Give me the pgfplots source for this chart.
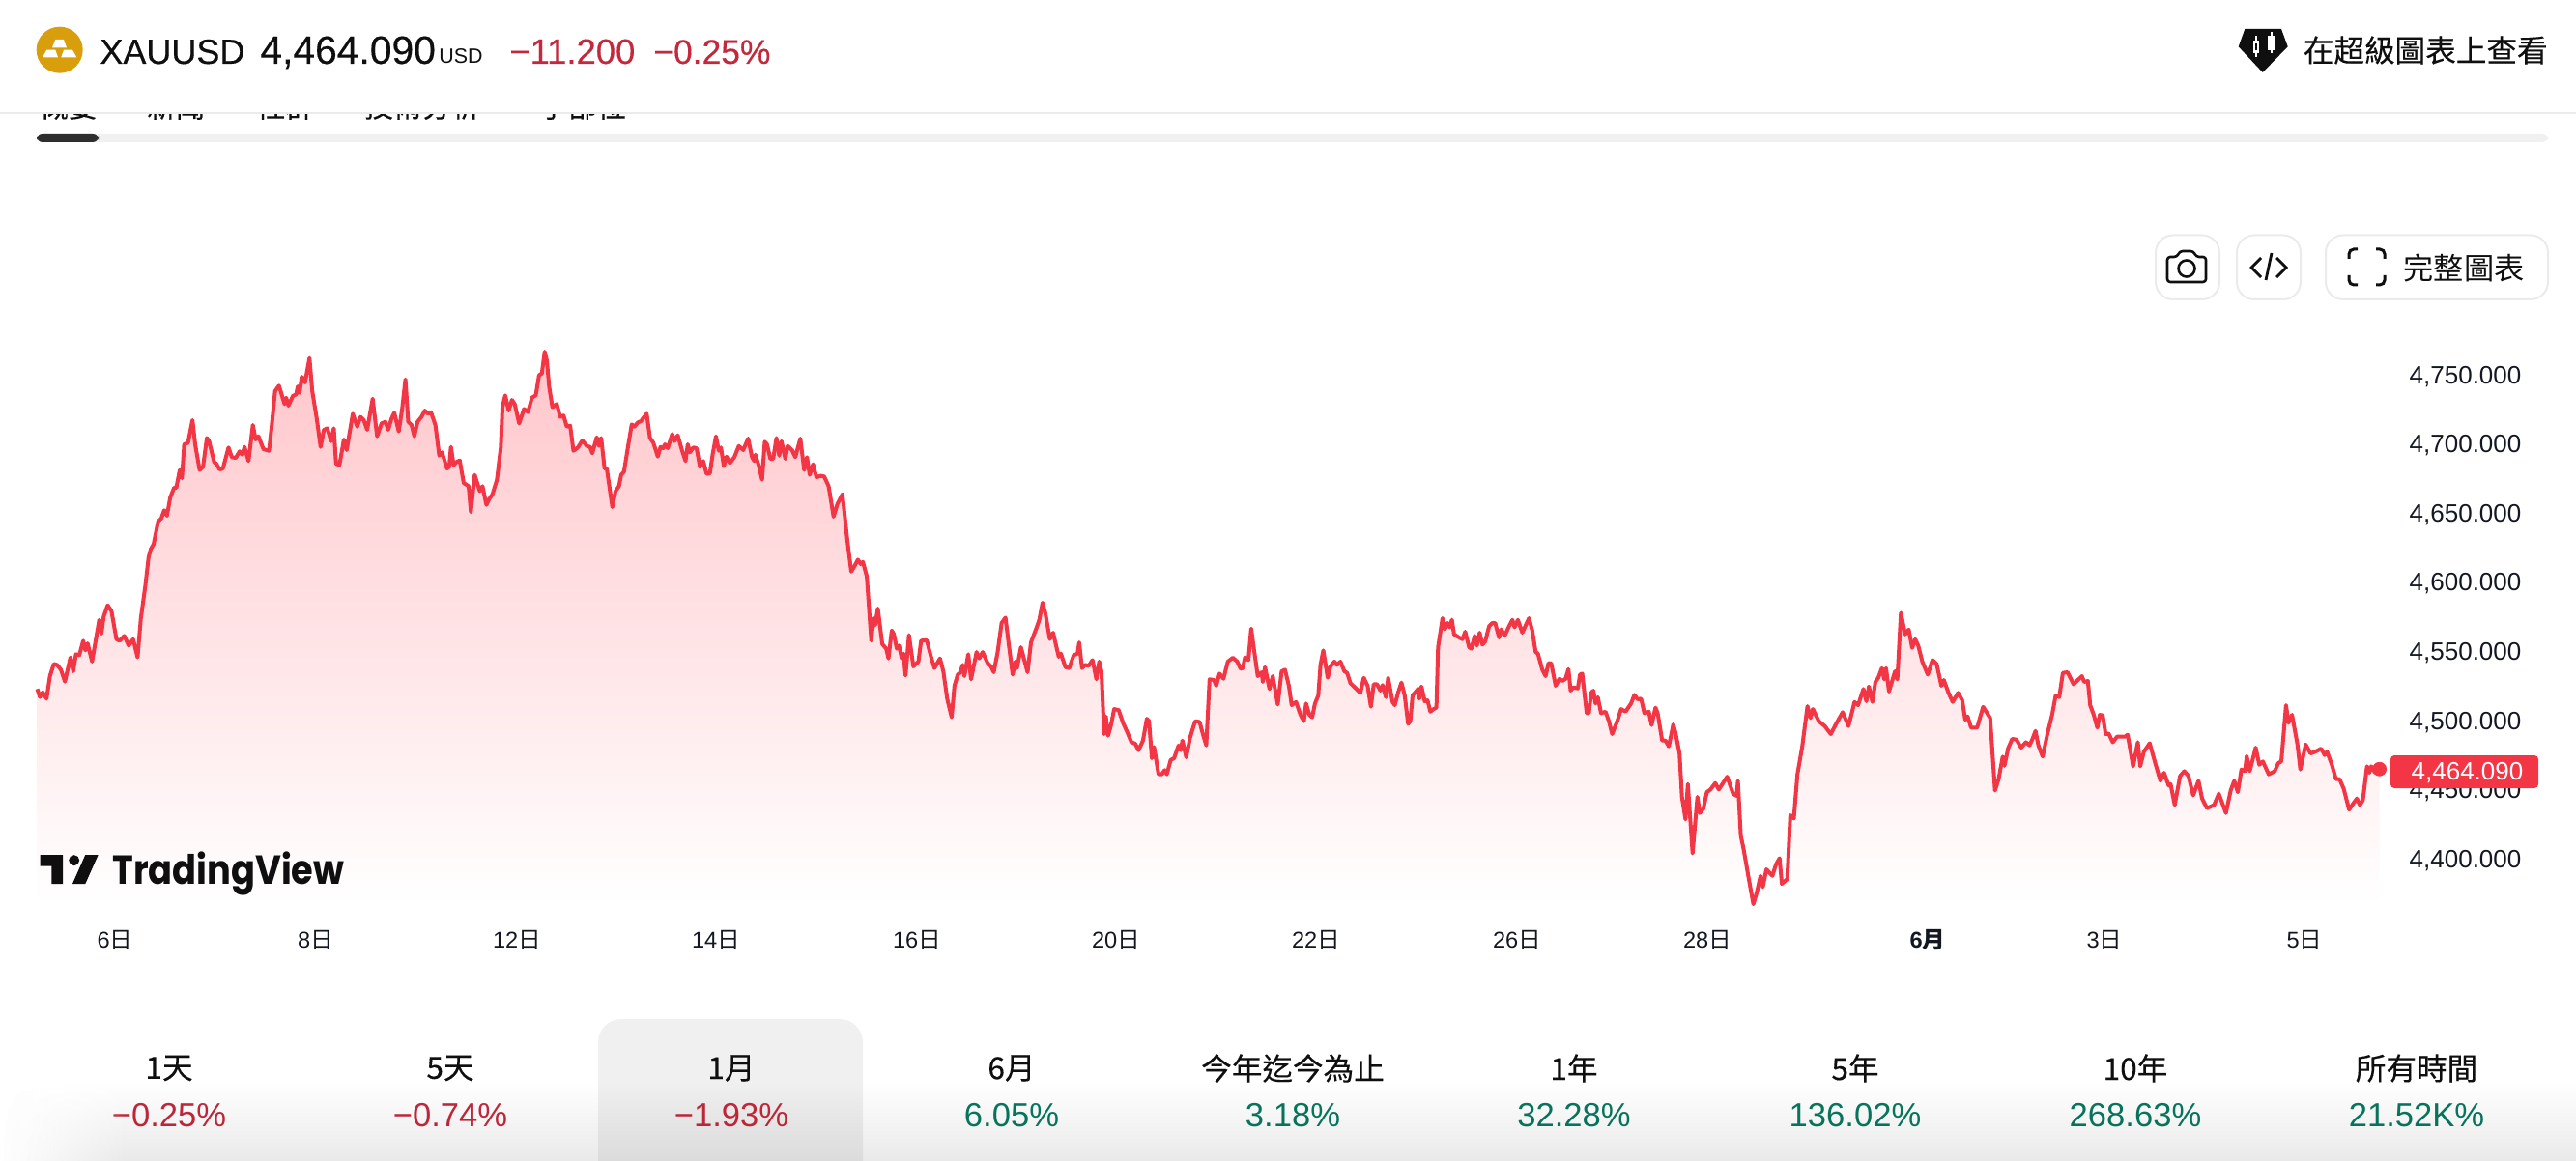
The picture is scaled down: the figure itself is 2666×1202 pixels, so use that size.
\documentclass[border=0pt]{standalone}
\usepackage{fontspec}
\usepackage{pgfplots}
\usepackage{pgfplotstable}
\pgfplotsset{compat=1.18}
\usetikzlibrary{fadings}
\setmainfont{Liberation Sans}
\newfontfamily\cjk{Noto Sans CJK TC}
\newfontfamily\cjkm[FakeBold=0.25]{Noto Sans CJK TC}
\newfontfamily\med[FakeBold=0.3]{Liberation Sans}
\newfontfamily\tvf{Poppins}
\newcommand\fs[1]{\fontsize{#1}{#1}\selectfont}
\newcommand\ri{{\cjk 日}}
\definecolor{lred}{RGB}{242,54,69}
\definecolor{gtop}{RGB}{255,198,203}
\definecolor{txt}{RGB}{15,15,15}
\definecolor{tickc}{RGB}{19,23,34}
\definecolor{dred}{RGB}{196,40,60}
\definecolor{dgreen}{RGB}{8,120,95}
\definecolor{gold}{RGB}{217,158,11}
\definecolor{bord}{RGB}{235,235,235}
\definecolor{bar}{RGB}{240,240,240}
\pgfplotstableread{
px price
38.5 4522.0
41.3 4516.2
44.2 4519.6
48.2 4515.0
51.7 4531.3
55.7 4540.1
59.1 4539.4
63.1 4535.9
67.2 4527.3
72.9 4544.8
75.8 4534.8
78.6 4547.1
82.1 4546.4
86.1 4556.9
88.4 4549.9
90.7 4555.0
95.3 4541.8
98.7 4555.7
102.7 4572.0
105.0 4562.0
107.3 4574.3
111.4 4582.5
115.4 4578.3
120.5 4558.0
124.0 4556.9
128.6 4560.4
133.2 4553.4
137.8 4558.0
142.4 4544.8
145.8 4573.2
150.4 4596.5
153.8 4617.4
156.1 4623.2
159.0 4626.7
163.6 4643.0
167.0 4645.4
169.9 4651.2
172.8 4647.2
176.2 4660.5
180.2 4667.5
182.5 4667.5
186.0 4680.3
188.3 4674.4
190.6 4698.9
194.6 4700.0
199.2 4716.4
202.0 4698.9
206.6 4680.3
210.1 4682.6
214.1 4703.5
216.4 4701.2
221.6 4686.1
223.9 4684.9
227.3 4680.7
230.7 4681.4
236.5 4696.6
239.9 4689.6
244.0 4689.1
248.0 4693.8
250.8 4691.4
253.1 4697.0
257.2 4686.8
261.7 4712.9
264.6 4702.4
267.5 4704.7
272.7 4695.4
278.4 4694.2
281.3 4712.9
284.7 4737.3
288.7 4741.3
294.5 4728.0
296.2 4732.6
298.5 4726.8
303.1 4733.8
306.5 4735.0
308.2 4740.8
310.0 4736.1
312.3 4747.8
315.7 4743.6
320.3 4761.3
323.2 4737.3
327.8 4717.5
331.8 4697.0
335.2 4709.4
338.7 4710.5
342.7 4701.2
345.5 4710.5
347.8 4684.9
351.3 4683.8
355.9 4702.4
358.8 4694.7
365.1 4721.0
369.7 4711.7
373.1 4718.7
376.5 4716.4
380.0 4709.4
385.7 4731.9
390.3 4704.7
394.9 4714.0
398.9 4715.2
401.8 4709.4
405.2 4717.5
408.1 4721.7
412.7 4708.2
416.2 4724.5
419.6 4745.9
422.5 4715.2
425.9 4712.9
428.8 4704.7
432.2 4715.2
436.2 4718.7
439.7 4723.3
443.1 4721.0
446.0 4722.2
450.6 4712.9
454.6 4690.7
457.5 4693.1
462.6 4681.4
464.9 4682.6
466.7 4697.0
469.5 4683.8
472.4 4686.1
475.8 4687.3
479.9 4671.0
485.0 4668.6
487.3 4650.0
491.3 4676.8
496.5 4665.1
499.4 4668.6
503.4 4655.1
506.3 4659.3
509.7 4662.8
514.3 4673.3
518.3 4696.6
520.0 4725.7
522.9 4734.3
526.4 4723.3
529.8 4731.0
532.7 4728.0
537.3 4714.0
542.4 4724.5
546.4 4722.2
550.5 4732.6
554.5 4734.3
557.9 4748.9
560.8 4750.1
563.7 4765.9
566.0 4759.4
568.3 4740.8
571.7 4725.7
576.3 4728.0
579.7 4718.7
583.2 4719.8
586.6 4711.7
590.1 4712.4
593.5 4694.2
598.1 4696.6
602.7 4701.7
607.3 4697.7
610.7 4697.0
613.0 4692.4
617.6 4704.0
619.9 4697.7
622.2 4703.5
625.7 4681.4
628.0 4681.4
633.7 4653.5
637.1 4665.1
640.6 4668.6
642.9 4676.8
645.8 4679.1
649.8 4696.6
653.8 4713.3
656.7 4711.7
660.1 4714.7
663.5 4715.7
665.8 4718.0
669.3 4721.0
672.7 4703.5
676.2 4700.0
680.8 4690.0
683.6 4697.0
686.5 4696.1
688.2 4698.9
691.1 4696.1
695.7 4706.3
698.0 4701.2
701.4 4705.4
706.0 4694.2
709.5 4686.8
711.8 4698.9
714.1 4693.1
717.5 4696.6
720.9 4696.1
724.4 4682.6
727.8 4686.8
731.3 4677.5
734.7 4677.9
737.6 4691.9
741.0 4704.7
743.9 4694.2
746.2 4696.6
749.1 4683.1
751.9 4690.0
755.4 4685.4
760.0 4689.6
764.6 4697.7
769.2 4694.7
774.3 4703.1
778.3 4689.6
780.6 4686.8
781.8 4691.4
785.2 4683.8
788.7 4673.3
791.5 4700.8
793.8 4698.9
797.3 4688.4
800.2 4688.4
803.6 4703.5
806.5 4690.7
808.8 4701.2
812.8 4688.4
815.1 4697.7
819.7 4694.7
823.1 4689.6
828.3 4703.1
832.3 4680.3
835.2 4689.6
838.0 4676.8
841.5 4684.5
844.9 4675.1
849.5 4676.1
853.0 4675.6
857.6 4668.6
862.7 4646.5
866.7 4655.8
871.9 4662.8
877.0 4629.1
881.0 4606.9
884.4 4610.9
887.9 4615.5
890.8 4612.3
893.1 4613.9
897.1 4603.4
901.7 4556.9
904.0 4573.2
905.7 4568.1
908.5 4580.2
913.1 4554.5
917.2 4551.1
919.5 4544.1
922.9 4564.3
925.2 4561.5
928.1 4551.1
930.4 4553.4
933.2 4544.1
935.0 4547.6
937.2 4531.7
940.7 4561.0
945.3 4538.3
950.5 4541.8
953.3 4556.9
959.1 4557.3
963.1 4546.4
967.1 4537.1
972.8 4544.1
976.3 4534.8
980.3 4515.0
984.9 4501.5
987.8 4524.3
991.2 4532.4
993.5 4533.6
996.4 4539.4
998.1 4531.3
1002.1 4547.1
1005.0 4529.0
1010.7 4548.7
1013.6 4544.1
1017.0 4548.7
1022.2 4540.6
1025.6 4538.3
1028.5 4534.1
1032.5 4548.7
1036.6 4569.7
1040.6 4573.6
1044.0 4554.5
1048.0 4532.4
1050.9 4541.8
1052.6 4537.1
1056.6 4552.2
1060.1 4542.9
1063.5 4534.1
1067.0 4555.7
1072.7 4566.2
1075.6 4572.0
1079.0 4584.4
1081.9 4576.7
1086.5 4558.1
1089.9 4562.7
1095.7 4545.3
1098.0 4547.6
1102.6 4537.8
1106.6 4537.1
1111.2 4546.4
1115.2 4547.6
1116.9 4555.7
1119.8 4537.1
1123.2 4539.4
1126.7 4538.7
1130.7 4542.9
1134.7 4529.0
1137.6 4541.8
1139.9 4534.8
1142.7 4489.4
1144.5 4502.2
1146.8 4488.2
1149.6 4495.2
1153.1 4507.5
1157.7 4506.8
1162.3 4497.5
1166.8 4490.5
1170.9 4483.6
1174.9 4482.4
1178.3 4477.7
1182.9 4484.7
1186.9 4500.5
1189.2 4498.7
1192.1 4471.9
1194.4 4480.0
1199.0 4460.3
1202.4 4460.3
1205.3 4463.3
1207.6 4460.3
1211.6 4470.7
1215.1 4471.9
1219.7 4481.2
1222.0 4477.7
1223.7 4484.7
1227.7 4472.6
1231.7 4487.0
1236.9 4498.7
1241.5 4498.2
1244.9 4489.4
1248.4 4481.2
1251.8 4529.0
1256.4 4528.5
1258.7 4524.3
1262.1 4533.1
1266.2 4529.4
1270.7 4541.8
1275.9 4544.6
1280.5 4541.8
1283.9 4536.6
1286.2 4537.1
1288.5 4544.8
1292.0 4542.9
1294.9 4565.7
1297.7 4551.1
1301.7 4531.3
1305.8 4534.1
1306.9 4527.1
1309.2 4537.8
1313.8 4522.0
1317.2 4531.3
1322.4 4510.8
1326.4 4534.8
1329.9 4535.9
1333.9 4524.3
1336.8 4510.3
1341.3 4512.6
1345.9 4503.3
1349.4 4498.7
1351.7 4511.5
1355.1 4503.3
1358.0 4501.5
1360.9 4511.5
1364.3 4517.3
1366.6 4539.4
1369.5 4549.9
1374.1 4530.1
1376.9 4538.3
1381.0 4541.8
1383.8 4539.4
1387.3 4541.8
1391.3 4534.8
1394.2 4533.6
1397.6 4526.2
1402.2 4523.1
1407.9 4519.2
1411.4 4530.1
1415.4 4524.3
1418.8 4509.2
1421.7 4525.4
1425.1 4525.4
1428.6 4520.8
1430.9 4524.8
1434.3 4516.1
1436.6 4530.1
1441.2 4512.6
1443.5 4510.3
1447.0 4519.6
1450.4 4526.6
1453.8 4517.3
1457.3 4496.8
1459.6 4498.7
1461.9 4517.3
1467.6 4522.0
1468.8 4515.0
1471.1 4523.8
1474.5 4513.1
1477.4 4513.8
1480.3 4505.6
1483.7 4507.5
1486.6 4508.5
1488.3 4552.2
1492.9 4573.2
1495.2 4565.1
1498.0 4569.7
1500.3 4566.6
1502.6 4572.0
1504.9 4561.5
1510.1 4559.2
1513.5 4558.0
1516.4 4563.4
1520.4 4552.2
1522.7 4551.1
1526.2 4560.4
1528.5 4553.4
1531.3 4562.7
1534.2 4554.1
1537.1 4556.4
1541.1 4567.4
1544.5 4569.7
1547.4 4569.7
1551.4 4559.2
1553.7 4565.1
1557.2 4560.4
1561.8 4567.4
1565.2 4572.0
1567.5 4566.6
1570.9 4572.0
1575.5 4562.7
1582.4 4573.2
1585.9 4563.9
1589.3 4548.7
1591.6 4547.6
1596.2 4535.9
1599.6 4531.3
1602.5 4540.6
1605.4 4540.6
1610.0 4524.3
1614.0 4529.4
1616.9 4527.8
1620.3 4529.4
1623.2 4536.4
1625.5 4520.8
1628.3 4523.1
1632.9 4522.4
1635.2 4532.4
1637.5 4533.1
1642.1 4504.5
1644.4 4504.5
1646.7 4519.2
1649.0 4520.8
1651.3 4511.5
1653.6 4516.1
1657.0 4504.5
1661.6 4505.6
1665.1 4498.7
1668.5 4489.4
1674.3 4499.8
1677.7 4507.5
1682.3 4505.6
1688.0 4511.5
1691.5 4517.8
1694.9 4514.5
1698.4 4515.0
1701.8 4504.5
1706.4 4505.6
1709.3 4495.9
1713.3 4508.5
1715.6 4504.5
1720.2 4484.7
1723.6 4484.7
1727.1 4480.5
1731.7 4496.4
1734.0 4490.5
1738.2 4475.4
1740.7 4444.0
1744.4 4427.7
1746.8 4453.3
1751.7 4403.2
1756.7 4444.0
1759.1 4432.3
1762.8 4435.3
1766.5 4447.4
1770.2 4449.3
1775.2 4454.0
1778.8 4449.3
1787.5 4458.6
1793.6 4446.3
1797.3 4444.7
1798.6 4455.6
1801.6 4416.0
1804.7 4405.5
1809.6 4385.8
1814.6 4366.4
1818.3 4375.3
1822.0 4386.9
1824.4 4378.8
1828.1 4391.6
1834.3 4386.9
1838.0 4395.1
1841.7 4399.7
1844.1 4381.1
1849.7 4384.6
1852.8 4430.7
1856.5 4428.4
1860.2 4460.3
1865.1 4480.0
1870.6 4509.6
1873.7 4501.0
1876.2 4507.5
1882.3 4498.7
1888.5 4495.2
1894.7 4489.4
1900.8 4497.5
1907.0 4505.2
1913.1 4495.2
1919.3 4512.6
1923.0 4510.3
1928.5 4522.0
1931.6 4513.1
1934.1 4523.8
1937.8 4512.6
1940.9 4527.1
1943.9 4530.1
1947.6 4537.1
1950.1 4528.9
1951.9 4537.1
1955.0 4520.1
1961.2 4534.8
1963.6 4528.9
1967.3 4577.1
1971.7 4561.5
1975.4 4565.0
1979.0 4551.7
1982.1 4558.0
1985.2 4553.4
1989.5 4541.7
1995.1 4532.4
2000.0 4542.9
2004.3 4540.1
2009.2 4524.3
2011.7 4528.5
2016.6 4519.2
2020.9 4512.6
2026.5 4519.2
2030.8 4513.8
2033.9 4499.8
2036.3 4502.2
2040.0 4494.0
2046.2 4494.0
2052.4 4509.1
2059.7 4501.0
2064.7 4448.6
2068.4 4456.8
2072.7 4473.1
2074.5 4466.5
2078.2 4478.9
2082.5 4485.9
2086.8 4485.4
2091.8 4479.6
2096.7 4483.5
2100.4 4481.2
2103.5 4485.9
2106.6 4491.7
2109.6 4481.2
2114.0 4473.1
2118.9 4489.4
2123.8 4503.3
2127.5 4517.3
2131.2 4516.1
2134.9 4533.6
2139.8 4534.1
2146.0 4525.4
2154.6 4531.3
2157.1 4527.1
2160.8 4527.8
2163.2 4510.3
2166.9 4503.3
2170.6 4494.0
2173.1 4503.3
2176.2 4502.9
2179.2 4489.4
2182.3 4489.8
2186.6 4483.5
2191.0 4487.5
2199.0 4487.5
2202.0 4488.9
2207.6 4466.1
2212.5 4483.5
2215.0 4466.1
2218.7 4476.6
2224.8 4482.8
2231.0 4467.2
2235.9 4455.6
2239.6 4461.4
2244.5 4452.1
2246.4 4453.3
2250.7 4438.1
2256.2 4459.1
2260.6 4462.6
2264.9 4459.1
2269.8 4445.1
2275.3 4455.6
2279.0 4442.8
2284.0 4435.8
2291.4 4438.1
2296.3 4446.3
2303.7 4432.3
2308.6 4448.6
2312.3 4455.6
2316.0 4447.4
2319.7 4463.8
2323.4 4462.6
2325.2 4473.5
2328.3 4462.6
2334.5 4479.6
2338.2 4467.2
2341.9 4469.6
2348.0 4460.3
2354.2 4462.6
2357.9 4468.4
2361.0 4469.6
2365.9 4510.3
2368.4 4497.5
2372.1 4503.3
2377.6 4482.4
2380.7 4463.8
2386.2 4481.9
2391.2 4475.4
2396.1 4476.6
2402.2 4478.9
2405.9 4474.2
2408.4 4476.6
2413.3 4467.2
2417.6 4456.8
2421.3 4456.8
2425.6 4449.8
2431.2 4434.7
2435.5 4439.3
2439.2 4442.8
2442.3 4438.1
2445.4 4441.6
2449.7 4466.1
2452.1 4461.4
2454.0 4466.1
2457.7 4461.9
2462.6 4464.09
}\goldtable
\begin{document}
\begin{tikzpicture}
\begin{axis}[
  at={(19.25pt,-468.35pt)},anchor=south west,
  scale only axis,width=1212.05pt,height=289.25pt,
  xmin=38.5,xmax=2462.6,ymin=4366,ymax=4770,
  clip=false,
  axis line style={draw=none},
  tick style={draw=none},
  xtick={119,326.4,535,741,949,1155,1362,1570,1767,1995,2178,2385},
  xticklabels={6\ri,8\ri,12\ri,14\ri,16\ri,20\ri,22\ri,26\ri,28\ri,{\textbf{6{\cjk 月}}},3\ri,5\ri},
  xticklabel style={font=\fs{11.8}\color{tickc},text height=9pt,text depth=2pt,yshift=-10pt},
  ytick={4400,4450,4500,4550,4600,4650,4700,4750},
  yticklabel pos=right,
  yticklabel style={font=\fs{13}\color{tickc},anchor=west,xshift=12pt,yshift=-1.4pt,
    /pgf/number format/.cd,fixed,fixed zerofill,precision=3,1000 sep={,},assume math mode=true},
]
\addplot[draw=none,top color=gtop,bottom color=white] table[x=px,y=price]{\goldtable} \closedcycle;
\addplot[lred,line width=2pt,line join=round] table[x=px,y=price]{\goldtable};
\addplot[lred,only marks,mark=*,mark size=3.5pt,mark options={fill=lred,draw=lred}] coordinates {(2462.6,4464.09)};
\end{axis}
\begin{scope}[x=0.5pt,y=-0.5pt]
% tabs clipped under the header
\tikzset{tab/.style={anchor=center,inner sep=0,text=txt,font=\fs{15}\cjkm}}
\node[tab] at (71,110) {概要};
\node[tab] at (182,110) {新聞};
\node[tab] at (295,110) {社群};
\node[tab] at (437,110) {技術分析};
\node[tab] at (603,110) {子部位};
\fill[white] (0,0) rectangle (2666,116);
\fill[white] (0,127) rectangle (2666,135);
\fill[bord] (0,116) rectangle (2666,118.5);
% scroll bar
\fill[bar,rounded corners=3pt] (38,139) rectangle (2637,147);
\fill[black!82,rounded corners=3pt] (38,139) rectangle (102,147);
% logo
\fill[gold] (61.7,51.7) circle [radius=24];
\fill[white] (57.3,41)--(66,41)--(69,49.3)--(54,49.3)--cycle;
\fill[white] (48.3,51.7)--(57.3,51.7)--(60,59.3)--(44,59.3)--cycle;
\fill[white] (66,51.7)--(75,51.7)--(79.3,59.3)--(63.3,59.3)--cycle;
% header
\tikzset{hd/.style={anchor=base west,inner sep=0}}
\node[hd,text=txt,font=\fs{18}\med] at (103,66) {XAUUSD};
\node[hd,text=txt,font=\fs{20.4}\med] at (269,66) {4,464.090};
\node[hd,text=txt,font=\fs{10.7}] at (454,66) {USD};
\node[hd,text=dred,font=\fs{18.2}\med] at (527,66) {−11.200};
\node[hd,text=dred,font=\fs{17.7}\med] at (676,66) {−0.25\%};
% supercharts icon
\fill[txt] (2323.3,30)--(2361,30)--(2367.7,48.3)--(2341.7,75)--(2316.7,48.3)--cycle;
\fill[white] (2332,41.7) rectangle (2338,55);
\fill[white] (2334,36.7) rectangle (2336,59);
\fill[txt] (2334,45) rectangle (2336,52);
\fill[white] (2347,37) rectangle (2355,52);
\fill[white] (2350,33) rectangle (2352,55);
\node[anchor=east,inner sep=0,text=txt,font=\fs{15.8}\cjkm] at (2637,52) {在超級圖表上查看};
% buttons
\draw[bord,line width=1pt,rounded corners=9pt] (2231,243.5) rectangle (2297,310);
\draw[bord,line width=1pt,rounded corners=9pt] (2315,243.5) rectangle (2381,310);
\draw[bord,line width=1pt,rounded corners=9pt] (2407,243.5) rectangle (2637,310);
% camera
\draw[txt,line width=1.3pt,line join=round,rounded corners=1.5pt] (2243,266)--(2253,266)--(2256,260)--(2270,260)--(2273,266)--(2283,266)--(2283,292)--(2243,292)--cycle;
\draw[txt,line width=1.3pt] (2263,278) circle [radius=8.5];
% code
\draw[txt,line width=1.4pt] (2340,267)--(2330,277)--(2340,287);
\draw[txt,line width=1.4pt] (2356,267)--(2366,277)--(2356,287);
\draw[txt,line width=1.4pt] (2351,262)--(2345,290);
% full chart
\draw[txt,line width=1.5pt,rounded corners=2.5pt] (2440,258)--(2431,258)--(2431,268);
\draw[txt,line width=1.5pt,rounded corners=2.5pt] (2459,258)--(2468,258)--(2468,268);
\draw[txt,line width=1.5pt,rounded corners=2.5pt] (2440,295)--(2431,295)--(2431,285);
\draw[txt,line width=1.5pt,rounded corners=2.5pt] (2459,295)--(2468,295)--(2468,285);
\node[anchor=center,inner sep=0,text=txt,font=\fs{15.6}\cjk] at (2550,278) {完整圖表};
% TradingView logo
\fill[txt] (41.7,885)--(65,885)--(65,915)--(53.3,915)--(53.3,896.7)--(41.7,896.7)--cycle;
\fill[txt] (76.7,890.7) circle [radius=5.5];
\fill[txt] (88.3,885)--(101.7,885)--(88.3,915)--(75,915)--cycle;
\node[anchor=base west,inner sep=0,text=txt,font=\fs{21}\tvf\bfseries,xscale=0.875] at (116,915) {TradingView};
% last value
\fill[lred,rounded corners=2pt] (2474,782) rectangle (2627,816);
\node[anchor=base,inner sep=0,text=white,font=\fs{13}] at (2553.5,807.5) {4,464.090};
% period selector
\fill[bar] (619,1202) {[rounded corners=12pt] -- (619,1055) -- (893,1055)} -- (893,1202) -- cycle;
\foreach \x/\t in {175/1天,466/5天,757/1月,1047/6月,1338/今年迄今為止,1629/1年,1920/5年,2210/10年,2501/所有時間}{
  \node[anchor=center,inner sep=0,text=txt,font=\fs{15.8}] at (\x,1106) {{\cjkm\t}};
}
\foreach \x/\t in {175/−0.25\%,466/−0.74\%,757/−1.93\%}{
  \node[anchor=base,inner sep=0,text=dred,font=\fs{17.3}] at (\x,1166) {\t};
}
\foreach \x/\t in {1047/6.05\%,1338/3.18\%,1629/32.28\%,1920/136.02\%,2210/268.63\%,2501/21.52K\%}{
  \node[anchor=base,inner sep=0,text=dgreen,font=\fs{17.3}] at (\x,1166) {\t};
}
\begin{scope}
\clip (0,1100) rectangle (2666,1202);
\fill[black,path fading=north,opacity=.11] (0,1120) rectangle (2666,1225);
\fill[white,path fading=east] (0,1100) rectangle (130,1225);
\end{scope}
\pgfresetboundingbox
\useasboundingbox (0,0) rectangle (2666,1202);
\end{scope}
\end{tikzpicture}
\end{document}
